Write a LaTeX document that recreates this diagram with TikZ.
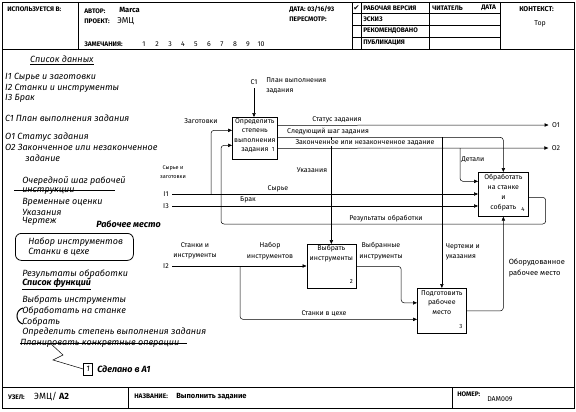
\documentclass[tikz,border=0pt]{standalone}
\usepackage{fontspec}
\setmainfont{Fira Sans}
\newfontfamily\ckfont{DejaVu Sans}
\usetikzlibrary{arrows.meta,positioning,calc}

\begin{document}
\begin{tikzpicture}[
  x=1pt, y=-1pt,
  font=\fontsize{7}{10.5}\selectfont,
  >={Triangle[length=4pt,width=3.4pt]},
  line width=0.5pt,
  fn/.style={draw, line width=0.7pt, anchor=north west, inner sep=0pt},
  fntxt/.style={anchor=north, align=center, inner sep=0pt, font=\fontsize{7}{9.5}\selectfont},
  num/.style={anchor=base east, inner sep=0pt, font=\fontsize{6}{7}\selectfont},
  lab/.style={align=center, inner sep=0.5pt, fill=white},
  hd/.style={anchor=west, inner sep=0pt, font=\fontsize{6.6}{8}\selectfont\bfseries},
  note/.style={anchor=west, inner sep=0pt, font=\fontsize{9}{11}\selectfont\itshape},
  bnote/.style={note, font=\fontsize{9}{11}\selectfont\bfseries\itshape},
  wire/.style={rounded corners=3pt}
]
\useasboundingbox (0,0) rectangle (576,412);

% ---------- form frame ----------
\draw[line width=0.8pt] (2,2) rectangle (574,408);
\draw (2,49) -- (574,49);
\draw (78,2) -- (78,49);
\foreach \c in {352,361,429,500} \draw (\c,2) -- (\c,49);
\foreach \r in {13,25,37} \draw (352,\r) -- (500,\r);
\draw (2,387) -- (574,387);
\draw (128,387) -- (128,408);
\draw (452,387) -- (452,408);

% ---------- header ----------
\node[hd] at (7,9) {ИСПОЛЬЗУЕТСЯ В:};
\node[hd] at (84,11) {АВТОР:};
\node[hd, font=\fontsize{7.5}{8}\selectfont\bfseries] at (119,10) {Marca};
\node[hd] at (84,21) {ПРОЕКТ:};
\node[hd, font=\fontsize{8.5}{9}\selectfont] at (117,21) {ЭМЦ};
\node[hd] at (84,44) {ЗАМЕЧАНИЯ:};
\foreach \n in {1,...,10}
  \node[font=\fontsize{7}{8}\selectfont, inner sep=0pt] at ({131+13*\n},44) {\n};
\node[hd] at (289,9) {ДАТА: 03/16/93};
\node[hd] at (289,19) {ПЕРЕСМОТР:};
\node[font=\ckfont\fontsize{7.5}{8}\selectfont, inner sep=0pt] at (356.5,8) {✔};
\node[hd] at (363,8) {РАБОЧАЯ ВЕРСИЯ};
\node[hd] at (363,19) {ЭСКИЗ};
\node[hd] at (363,31) {РЕКОМЕНДОВАНО};
\node[hd] at (363,43) {ПУБЛИКАЦИЯ};
\node[hd] at (432,8) {ЧИТАТЕЛЬ};
\node[hd] at (481,8) {ДАТА};
\node[hd, font=\fontsize{7}{8}\selectfont\bfseries] at (519,9) {КОНТЕКСТ:};
\node[font=\fontsize{7}{8}\selectfont, inner sep=0pt] at (540,24) {Top};

% ---------- footer ----------
\node[hd] at (8,397) {УЗЕЛ:};
\node[hd, font=\fontsize{9}{10}\selectfont] at (34,397) {ЭМЦ/ \textbf{A2}};
\node[hd] at (134,396) {НАЗВАНИЕ:};
\node[hd, font=\fontsize{7.5}{8}\selectfont\bfseries] at (176,397) {Выполнить задание};
\node[hd] at (457,394) {НОМЕР:};
\node[hd, font=\fontsize{7}{8}\selectfont] at (487,399) {DAM009};

% ---------- notes column ----------
\node[note] at (30,60) {\underline{Список данных}};
\node[note] at (5,77) {I1 Сырье и заготовки};
\node[note] at (5,88) {I2 Станки и инструменты};
\node[note] at (5,98) {I3 Брак};
\node[note] at (5,118) {C1 План выполнения задания};
\node[note] at (5,137) {O1 Статус задания};
\node[note] at (5,147) {O2 Законченное или незаконченное};
\node[note] at (25,158) {задание};
\node[note] at (22,181) {Очередной шаг рабочей};
\node[note] (ins) at (22,191) {инструкции};
\draw[line width=1pt] ([xshift=-8pt,yshift=1pt]ins.west) -- ([xshift=40pt,yshift=1pt]ins.east);
\node[note] at (22,202) {Временные оценки};
\node[note] at (22,212) {Указания};
\node[note] at (22,221) {Чертеж};
\node[bnote] at (96,224) {Рабочее место};
\node[fn, rounded corners=6pt, line width=0.8pt, minimum width=118pt, minimum height=27pt] (wp) at (15,233) {};
\node[note] at (28,242) {Набор инструментов};
\node[note] at (28,252) {Станки в цехе};
\node[note] at (22,274) {Результаты обработки};
\node[bnote] at (22,284) {\underline{Список функций}};
\node[note] at (22,300) {Выбрать инструменты};
\node[note] at (22,311) {Обработать на станке};
\node[note] at (22,322) {Собрать};
\draw[line width=1pt] (23,308) .. controls (15,310) and (15,322) .. (23,324);
\node[note] at (22,332) {Определить степень выполнения задания};
\node[note] (plan) at (20,343) {Планировать конкретные операции};
\draw[line width=1pt] (plan.west) -- ([xshift=8pt]plan.east);
\node[draw, minimum width=9pt, minimum height=12pt, inner sep=0pt,
      font=\fontsize{8}{9}\selectfont\itshape] (d1) at (88,369) {1};
\draw ([xshift=30pt]plan.west) -- ++(13,12) -- ++(-10,5) -- (d1.west);
\node[bnote] at (97,369) {Сделано в A1};

% ---------- activity boxes ----------
\node[fn, minimum width=45pt, minimum height=42pt] (b1) at (232,117) {};
\node[fntxt] at ([yshift=-1pt]b1.north) {Определить\\степень\\выполнения\\задания};
\node[num] at ([shift={(-3pt,8.5pt)}]b1.south east) {1};

\node[fn, minimum width=49pt, minimum height=44pt] (b2) at (306.5,244) {};
\node[fntxt] at ([yshift=-1pt]b2.north) {Выбрать\\инструменты};
\node[num] at ([shift={(-3pt,5pt)}]b2.south east) {2};

\node[fn, minimum width=49pt, minimum height=45pt] (b3) at (417,288) {};
\node[fntxt] at ([yshift=-2pt]b3.north) {Подготовить\\рабочее\\место};
\node[num] at ([shift={(-4pt,5pt)}]b3.south east) {3};

\node[fn, minimum width=50pt, minimum height=44pt] (b4) at (478,172) {};
\node[fntxt, font=\fontsize{7}{10}\selectfont] at ([yshift=-2pt]b4.north) {Обработать\\на станке\\и\\собрать};
\node[num] at ([shift={(-4pt,5.5pt)}]b4.south east) {4};

% ---------- boundary arrows ----------
\node (c1) at (254,82) {C1};
\node[anchor=west, align=left, inner sep=0pt] at (266,85.5) {План выполнения\\задания};
\node (i1) at (166,194) {I1};
\node (i3) at (166,206) {I3};
\node (i2) at (166,266) {I2};
\node (o1) at (556,125) {O1};
\node (o2) at (556,148) {O2};

\coordinate (sp1) at (211,194);
\coordinate (nx) at ([yshift=1pt]b1.east);
\coordinate (fin) at ([yshift=-10pt]b1.east);
\coordinate (dt) at (460,148);
\coordinate (sp2) at (240,266);

% control
\draw[->] (c1) -- (c1 |- b1.north);
\draw[->, wire] (nx) -| (b4.north);
\draw[->] (nx -| b2.north) -- (b2.north);
\draw[->] (nx -| b3.north) -- (b3.north);

% inputs
\draw[->] (i1) -- (i1 -| b4.west);
\draw[->, wire] (sp1) |- ([yshift=8pt]b1.west);
\draw[->] (i3) -- (i3 -| b4.west);
\draw[->] (i2) -- (i2 -| b2.west);
\draw[->, wire] (sp2) |- ([yshift=-8.5pt]b3.west);
\draw[->, wire] (dt) |- ([yshift=13pt]b4.west);

% outputs
\draw[->] ([yshift=13pt]b1.east) -- (o1);
\draw[->] (fin) -- (o2);
\draw[->, wire] (b2.east) -- ++(45,0) |- ([yshift=8pt]b3.west);
\draw[->, wire] (b3.east) -| (b4.south);
\draw[->, wire] ([yshift=-3pt]b4.east) -- ++(17,0) |- (221,224) |- ([yshift=-7pt]b1.west);

% labels
\node[lab] at (337,120) {Статус задания};
\node[lab] at (328,132) {Следующий шаг задания};
\node[lab] at (365,143) {Законченное или незаконченное задание};
\node[lab] at (473,160) {Детали};
\node[lab] at (312,170) {Указания};
\node[lab] at (278,189) {Сырье};
\node[lab] at (248,200) {Брак};
\node[lab] at (386,219) {Результаты обработки};
\node[lab] at (201,121) {Заготовки};
\node[lab, font=\fontsize{5.5}{9}\selectfont] at (173,172.5) {Сырье и\\заготовки};
\node[lab] at (195,251) {Станки и\\инструменты};
\node[lab] at (270,251) {Набор\\инструментов};
\node[lab] at (381,251) {Выбранные\\инструменты};
\node[lab, anchor=west, align=left] at (445,252) {Чертежи и\\указания};
\node[lab, anchor=west, align=left, font=\fontsize{7.5}{10.5}\selectfont] at (508,268) {Оборудованное\\рабочее место};
\node[lab] at (324,314) {Станки в цехе};

\end{tikzpicture}
\end{document}
